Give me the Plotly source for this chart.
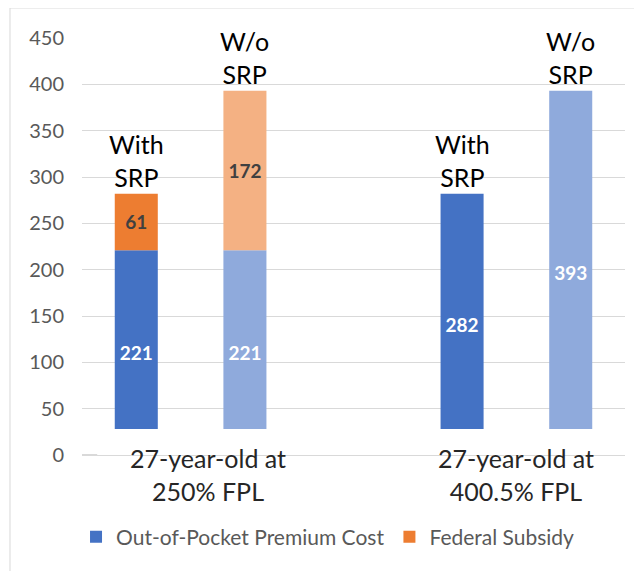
import plotly.graph_objects as go

# chart data
groups = ["27-year-old at<br>250% FPL", "27-year-old at<br>400.5% FPL"]
oop_with = [221, 282]
oop_without = [221, 393]
subsidy_with = [61, 0]
subsidy_without = [172, 0]
scenario_labels = ["With<br>SRP", "W/o<br>SRP"]
y_ticks = [0, 50, 100, 150, 200, 250, 300, 350, 400, 450]

FONT = "Lato"
GRAY = "#595959"
DARK_BLUE = "#4472C4"
LIGHT_BLUE = "#8FAADC"
ORANGE = "#ED7D31"
LIGHT_ORANGE = "#F4B183"


def labels(vals):
    return [str(v) if v else "" for v in vals]


fig = go.Figure()

fig.add_trace(go.Bar(
    x=groups, y=oop_with, name="Out-of-Pocket Premium Cost",
    offsetgroup="with", marker_color=DARK_BLUE,
    text=labels(oop_with), textposition="inside", insidetextanchor="middle",
    textfont=dict(family=FONT, size=19, color="white", weight="bold"),
    legendrank=1,
))
fig.add_trace(go.Bar(
    x=groups, y=oop_without, name="Out-of-Pocket Premium Cost (w/o SRP)",
    offsetgroup="without", marker_color=LIGHT_BLUE, showlegend=False,
    text=labels(oop_without), textposition="inside", insidetextanchor="middle",
    textfont=dict(family=FONT, size=19, color="white", weight="bold"),
))
fig.add_trace(go.Bar(
    x=groups, y=subsidy_with, base=oop_with, name="Federal Subsidy",
    offsetgroup="with", marker_color=ORANGE,
    text=labels(subsidy_with), textposition="inside", insidetextanchor="middle",
    textfont=dict(family=FONT, size=19, color="#404040", weight="bold"),
    legendrank=2,
))
fig.add_trace(go.Bar(
    x=groups, y=subsidy_without, base=oop_without, name="Federal Subsidy (w/o SRP)",
    offsetgroup="without", marker_color=LIGHT_ORANGE, showlegend=False,
    text=labels(subsidy_without), textposition="inside", insidetextanchor="middle",
    textfont=dict(family=FONT, size=19, color="#404040", weight="bold"),
))

for t in fig.data:
    t.constraintext = "none"
    t.textangle = 0
    t.marker.line.width = 0

# scenario labels above each bar
totals_with = [a + b for a, b in zip(oop_with, subsidy_with)]
totals_without = [a + b for a, b in zip(oop_without, subsidy_without)]
for g, tw, two in zip(groups, totals_with, totals_without):
    for lab, tot, shift in ((scenario_labels[0], tw, -54), (scenario_labels[1], two, 54)):
        fig.add_annotation(
            x=g, y=tot, xref="x", yref="y", text=lab, showarrow=False,
            xshift=shift, yanchor="bottom", yshift=0,
            font=dict(family=FONT, size=25, color="black"),
        )

# white box that hides the bar bottoms behind the category labels
fig.add_shape(type="rect", xref="paper", yref="y", x0=0.028, x1=1.02, y0=-6, y1=28,
              fillcolor="white", line_width=0, layer="above")

# category labels
for g, shift in zip(groups, (17, 0)):
    fig.add_annotation(
        x=g, y=0, xref="x", yref="y", text=g, showarrow=False,
        xshift=shift, yanchor="top", yshift=14,
        font=dict(family=FONT, size=25, color="#262626"),
    )

# outer border
fig.add_shape(type="rect", xref="paper", yref="paper", x0=-0.1326, x1=1.2, y0=-0.4, y1=1.072,
              line=dict(color="#D9D9D9", width=1), fillcolor="rgba(0,0,0,0)", layer="below")

fig.update_layout(
    width=642, height=571,
    margin=dict(l=74, r=25, t=30, b=124),
    paper_bgcolor="white", plot_bgcolor="white",
    barmode="group", bargap=0.333, bargroupgap=0.604,
    font=dict(family=FONT, color=GRAY),
    legend=dict(orientation="h", x=-0.011, xanchor="left", y=-0.197, yanchor="middle",
                font=dict(family=FONT, size=21, color=GRAY), traceorder="normal"),
    xaxis=dict(range=[-1 / 3, 4 / 3], showticklabels=False, showgrid=False,
               zeroline=False, showline=False, ticks=""),
    yaxis=dict(range=[0, 450], tickvals=y_ticks, showgrid=True, gridcolor="#D9D9D9",
               gridwidth=1, zeroline=True, zerolinecolor="#D9D9D9", zerolinewidth=1.5,
               showline=False, ticks="",
               tickfont=dict(family=FONT, size=20, color=GRAY), ticklabelstandoff=17),
)

fig.write_html("out.html")
